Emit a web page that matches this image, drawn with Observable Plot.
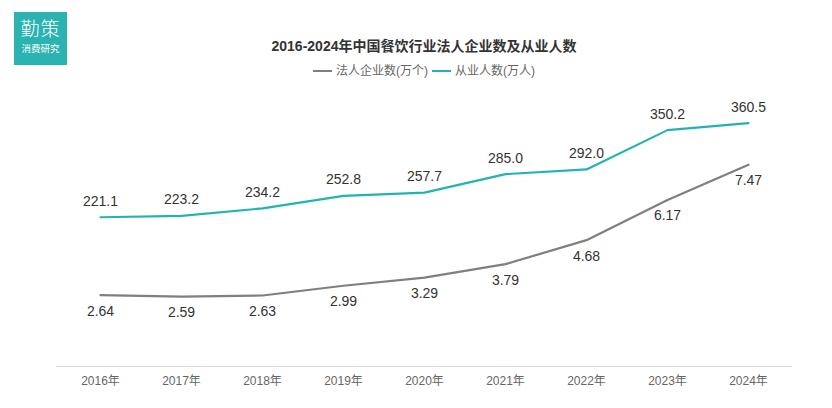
<!DOCTYPE html>
<html>
<head>
<meta charset="utf-8">
<script src="https://cdn.jsdelivr.net/npm/d3@7"></script>
<script src="https://cdn.jsdelivr.net/npm/@observablehq/plot@0.6"></script>
<style>
  html, body { margin: 0; padding: 0; background: #fff; }
  body { width: 832px; height: 408px; overflow: hidden; position: relative;
         font-family: "Liberation Sans", "Noto Sans CJK SC", sans-serif; }
  #logo { position: absolute; left: 14px; top: 12px; width: 53px; height: 53px;
          background: #2bb3b1; color: #fff; text-align: center; }
  #logo .big { font-size: 19px; line-height: 19px; margin-top: 8px; letter-spacing: 1px; font-weight: 300; }
  #logo .small { font-size: 9.5px; line-height: 10px; margin-top: 5px; }
  #header { height: 85px; width: 816px; padding-left: 16px; text-align: center; }
  #title { padding-top: 38px; font-size: 14px; font-weight: bold; color: #333; line-height: 17px; }
  #legend { margin-top: 9px; font-size: 12px; color: #666; line-height: 14px;
            display: flex; justify-content: center; align-items: center; }
  .sw { display: inline-block; width: 19px; height: 2px; margin-right: 4px; }
  .item { display: inline-flex; align-items: center; margin: 0 2px; }
  #chart svg { display: block; }
</style>
</head>
<body>
<div id="logo"><div class="big">勤策</div><div class="small">消费研究</div></div>
<div id="header">
  <div id="title"></div>
  <div id="legend"></div>
</div>
<div id="chart"></div>
<script>
const years = ["2016", "2017", "2018", "2019", "2020", "2021", "2022", "2023", "2024"];
const enterprises = [2.64, 2.59, 2.63, 2.99, 3.29, 3.79, 4.68, 6.17, 7.47];      // 万个
const employees = [221.1, 223.2, 234.2, 252.8, 257.7, 285.0, 292.0, 350.2, 360.5]; // 万人
const seriesNames = ["法人企业数(万个)", "从业人数(万人)"];
const seriesColors = ["#7f7f7f", "#22b3b3"];
const seriesMax = [10, 400]; // hidden dual-axis maxima
const titleText = "2016-2024年中国餐饮行业法人企业数及从业人数";

document.getElementById("title").textContent = titleText;
const legend = document.getElementById("legend");
seriesNames.forEach((n, i) => {
  const s = document.createElement("span");
  s.className = "item";
  s.innerHTML = `<span class="sw" style="background:${seriesColors[i]}"></span>${n}`;
  legend.appendChild(s);
});

const entData = years.map((y, i) => ({year: y, value: enterprises[i], norm: enterprises[i] / seriesMax[0]}));
const empData = years.map((y, i) => ({year: y, value: employees[i], norm: employees[i] / seriesMax[1]}));

const chart = Plot.plot({
  width: 832,
  height: 323,
  marginTop: 11,
  marginBottom: 42,
  marginLeft: 56,
  marginRight: 40,
  style: {fontFamily: '"Liberation Sans", "Noto Sans CJK SC", sans-serif', background: "#fff"},
  x: {type: "point", domain: years, padding: 0.5, label: null},
  y: {domain: [0, 1], axis: null},
  marks: [
    Plot.ruleY([0], {stroke: "#d9d9d9", strokeWidth: 1}),
    Plot.axisX({tickSize: 0, tickPadding: 10, fontSize: 12, fill: "#666", tickFormat: d => d + "年", label: null}),
    Plot.line(entData, {x: "year", y: "norm", stroke: seriesColors[0], strokeWidth: 2.2}),
    Plot.line(empData, {x: "year", y: "norm", stroke: seriesColors[1], strokeWidth: 2.2}),
    Plot.text(entData, {x: "year", y: "norm", text: d => d.value.toFixed(2), dy: 16, fontSize: 14, fill: "#333"}),
    Plot.text(empData, {x: "year", y: "norm", text: d => d.value.toFixed(1), dy: -16, fontSize: 14, fill: "#333"})
  ]
});
document.getElementById("chart").appendChild(chart);
</script>
</body>
</html>
